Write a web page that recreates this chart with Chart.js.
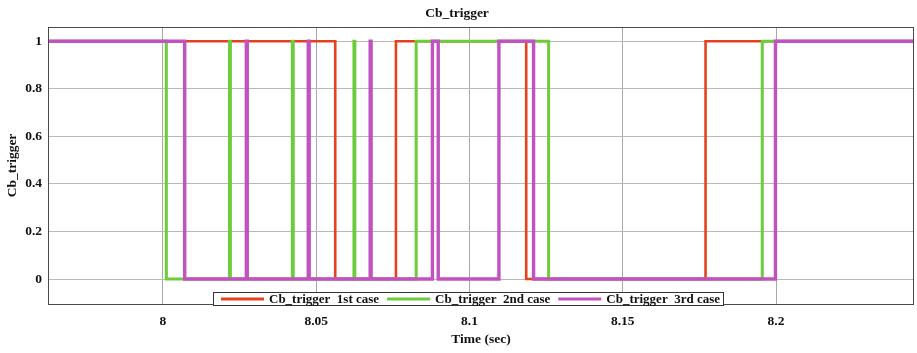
<!DOCTYPE html>
<html>
<head>
<meta charset="utf-8">
<script src="https://cdn.jsdelivr.net/npm/chart.js@4.4.1/dist/chart.umd.min.js"></script>
<style>
  html, body { margin: 0; padding: 0; background: #fff; }
  #wrap { width: 917px; height: 353px; }
</style>
</head>
<body>
<div id="wrap"><canvas id="myChart" width="917" height="353"></canvas></div>
<script>
// switching times (sec) and the value the signal takes from that time on
const case1Times  = [7.9625, 8.0562, 8.0760, 8.1185, 8.1770, 8.245];
const case1Values = [1, 0, 1, 0, 1, 1];

const case2Times  = [7.9625, 8.0011, 8.0217, 8.0220, 8.0422, 8.0425, 8.0623, 8.0626, 8.0826, 8.1258, 8.1955, 8.245];
const case2Values = [1, 0, 1, 0, 1, 0, 1, 0, 1, 0, 1, 1];

const case3Times  = [7.9625, 8.0071, 8.0272, 8.0275, 8.0474, 8.0477, 8.0676, 8.0679, 8.0879, 8.0898, 8.1096, 8.1209, 8.1998, 8.245];
const case3Values = [1, 0, 1, 0, 1, 0, 1, 0, 1, 0, 1, 0, 1, 1];

const seriesLabels = ['Cb_trigger  1st case', 'Cb_trigger  2nd case', 'Cb_trigger  3rd case'];
const xTicks = [8, 8.05, 8.1, 8.15, 8.2];
const yTicks = [0, 0.2, 0.4, 0.6, 0.8, 1];

function toPoints(times, values) {
    return times.map((t, i) => ({ x: t, y: values[i] }));
}

const serif = "'Liberation Serif', 'DejaVu Serif', serif";

// frame around plot + legend box sitting on the bottom of the plot
const framePlugin = {
    id: 'frame',
    afterDatasetsDraw(chart) {
        const { ctx, chartArea: a } = chart;
        ctx.save();
        ctx.strokeStyle = '#4a4a4a';
        ctx.lineWidth = 1;
        ctx.strokeRect(a.left + 0.5, a.top + 0.5, a.right - a.left - 1, a.bottom - a.top);

        // legend
        const y0 = 292, h = 13, x0 = 213;
        ctx.font = "bold 13px " + serif;
        let x = x0 + 8;
        const items = chart.data.datasets;
        const parts = [];
        items.forEach(ds => {
            const w = ctx.measureText(ds.label).width;
            parts.push({ ds, x, w });
            x += 43 + 5 + w + 8;
        });
        const x1 = x - 5;
        ctx.fillStyle = '#fff';
        ctx.fillRect(x0, y0, x1 - x0, h);
        ctx.strokeStyle = '#333';
        ctx.strokeRect(x0 + 0.5, y0 + 0.5, x1 - x0, h);
        parts.forEach(p => {
            ctx.strokeStyle = p.ds.borderColor;
            ctx.lineWidth = 3;
            ctx.beginPath();
            ctx.moveTo(p.x, y0 + h / 2 + 0.5);
            ctx.lineTo(p.x + 43, y0 + h / 2 + 0.5);
            ctx.stroke();
            ctx.fillStyle = '#111';
            ctx.textBaseline = 'middle';
            ctx.fillText(p.ds.label, p.x + 48, y0 + h / 2 + 1);
        });
        ctx.restore();
    }
};

const ctx = document.getElementById('myChart').getContext('2d');
const myChart = new Chart(ctx, {
    type: 'line',
    data: {
        datasets: [
            {
                label: seriesLabels[0],
                data: toPoints(case1Times, case1Values),
                borderColor: '#e6401e',
                borderWidth: 2.6,
                order: 3
            },
            {
                label: seriesLabels[1],
                data: toPoints(case2Times, case2Values),
                borderColor: '#6ccc3a',
                borderWidth: 3,
                order: 2
            },
            {
                label: seriesLabels[2],
                data: toPoints(case3Times, case3Values),
                borderColor: '#c152c0',
                borderWidth: 3.4,
                order: 1
            }
        ]
    },
    options: {
        responsive: false,
        animation: false,
        elements: {
            point: { radius: 0 },
            line: { stepped: true, tension: 0, fill: false }
        },
        layout: { padding: { left: 0, right: 3, top: 0, bottom: 0 } },
        plugins: {
            legend: { display: false },
            tooltip: { enabled: false },
            title: {
                display: true,
                text: 'Cb_trigger',
                color: '#111',
                font: { family: serif, size: 13.5, weight: 'bold', lineHeight: 1.2 },
                padding: { top: 5, bottom: 5.8 }
            }
        },
        scales: {
            x: {
                type: 'linear',
                min: 7.9625,
                max: 8.245,
                afterBuildTicks: s => { s.ticks = xTicks.map(v => ({ value: v })); },
                afterFit: s => { s.height = 49; },
                grid: { color: '#a8a8a8', lineWidth: 1, drawTicks: false },
                border: { display: false },
                ticks: {
                    padding: 9,
                    color: '#111',
                    font: { family: serif, size: 13.5, weight: 'bold' },
                    callback: v => String(v)
                },
                title: {
                    display: true,
                    text: 'Time (sec)',
                    color: '#111',
                    font: { family: serif, size: 13.5, weight: 'bold' },
                    padding: { top: 0, bottom: 5 }
                }
            },
            y: {
                min: -0.105,
                max: 1.06,
                afterBuildTicks: s => { s.ticks = yTicks.map(v => ({ value: v })); },
                afterFit: s => { s.width = 48; },
                grid: { color: '#b8b8b8', lineWidth: 1, drawTicks: false },
                border: { display: false },
                ticks: {
                    padding: 6,
                    color: '#111',
                    font: { family: serif, size: 13.5, weight: 'bold' },
                    callback: v => String(Math.round(v * 10) / 10)
                },
                title: {
                    display: true,
                    text: 'Cb_trigger',
                    color: '#111',
                    font: { family: serif, size: 13.5, weight: 'bold' },
                    padding: { top: 4, bottom: 0 }
                }
            }
        }
    },
    plugins: [framePlugin]
});
</script>
</body>
</html>
